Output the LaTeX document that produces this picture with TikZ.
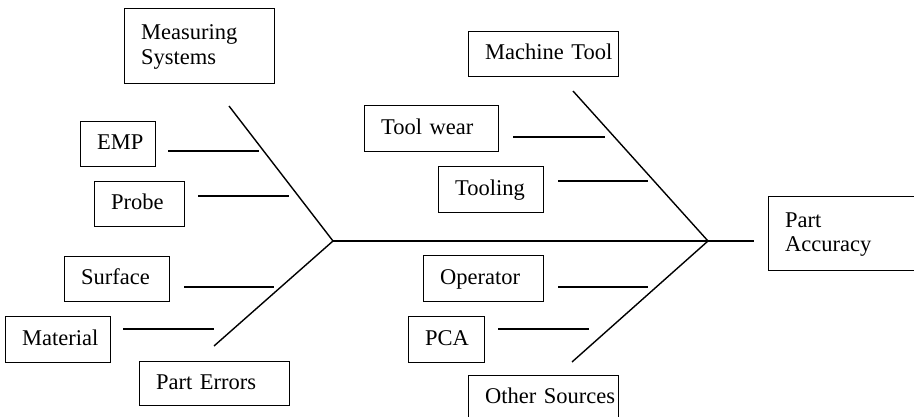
\documentclass[tikz,border=0pt]{standalone}
\usepackage{fontspec}
\setmainfont{Liberation Serif}
\begin{document}
\begin{tikzpicture}[x=1pt,y=-1pt,
  bone/.style={line width=1.4pt},
  cause/.style={draw, line width=1.4pt, anchor=north west, align=left,
    inner xsep=16.5pt, inner ysep=0pt,
    font=\fontsize{22.5}{24.5}\selectfont,
    text height=17pt, text depth=5.6pt},
  twoline/.style={text depth=30.1pt}]
\useasboundingbox (0,0) rectangle (914,417);
\clip (0,0) rectangle (914,417);

% cause boxes
\node[cause, text width=117pt, minimum height=75pt, twoline] (meas) at (124,8) {Measuring\\Systems};
\node[cause, text width=42pt,  minimum height=45pt] (emp)      at (80,121)  {EMP};
\node[cause, text width=57pt,  minimum height=45pt] (probe)    at (94,181)  {Probe};
\node[cause, text width=72pt,  minimum height=45pt] (surface)  at (64,256)  {Surface};
\node[cause, text width=72pt,  minimum height=46pt] (material) at (5,316)   {Material};
\node[cause, text width=117pt, minimum height=44pt] (perr)     at (139,361) {Part~Errors};
\node[cause, text width=117pt, minimum height=45pt] (mtool)    at (468,31)  {Machine~Tool};
\node[cause, text width=101pt, minimum height=46pt] (wear)     at (364,105) {Tool~wear};
\node[cause, text width=72pt,  minimum height=46pt] (tooling)  at (438,166) {Tooling};
\node[cause, text width=87pt,  minimum height=46pt] (oper)     at (423,255) {Operator};
\node[cause, text width=43pt,  minimum height=46pt] (pca)      at (408,316) {PCA};
\node[cause, text width=117pt, minimum height=45pt] (other)    at (468,375) {Other~Sources};
\node[cause, text width=117pt, minimum height=74pt, twoline] (effect) at (768,196) {Part\\Accuracy};

% spine and main bones
\coordinate (j1) at (333,241);
\coordinate (j2) at (708,241);
\coordinate (head) at (754,241);
\coordinate (ul) at (229,106);
\coordinate (ll) at (214,346);
\coordinate (ur) at (573,91);
\coordinate (lr) at (572,362);
\draw[bone] (j1) -- (j2) -- (head);
\draw[bone] (ul) -- (j1) -- (ll);
\draw[bone] (ur) -- (j2) -- (lr);

% ribs
\coordinate (empA) at (168,151);     \coordinate (empB) at (259,151);
\coordinate (probeA) at (198,196);   \coordinate (probeB) at (289,196);
\coordinate (surfA) at (184,287);    \coordinate (surfB) at (274,287);
\coordinate (matA) at (123,329);     \coordinate (matB) at (214,329);
\coordinate (wearA) at (513,137);    \coordinate (wearB) at (605,137);
\coordinate (toolA) at (558,181);    \coordinate (toolB) at (648,181);
\coordinate (operA) at (558,287);    \coordinate (operB) at (648,287);
\coordinate (pcaA) at (498,329);     \coordinate (pcaB) at (589,329);
\draw[bone] (empA) -- (empB);
\draw[bone] (probeA) -- (probeB);
\draw[bone] (surfA) -- (surfB);
\draw[bone] (matA) -- (matB);
\draw[bone] (wearA) -- (wearB);
\draw[bone] (toolA) -- (toolB);
\draw[bone] (operA) -- (operB);
\draw[bone] (pcaA) -- (pcaB);
\end{tikzpicture}
\end{document}
